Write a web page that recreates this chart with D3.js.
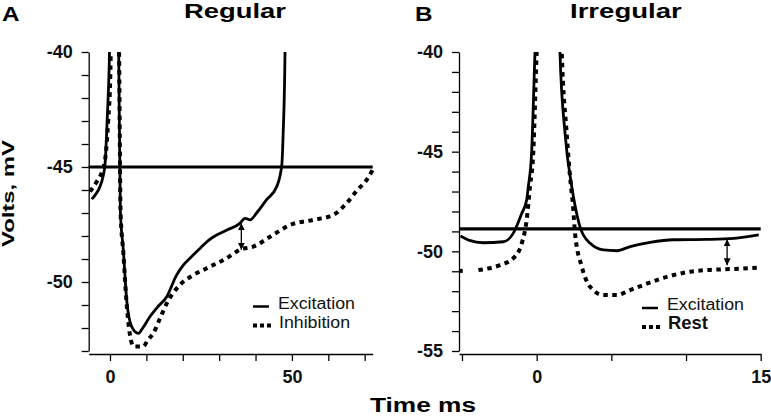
<!DOCTYPE html>
<html lang="en">
<head>
    <meta charset="UTF-8">
    <title>Regular / Irregular</title>
    <script src="https://d3js.org/d3.v7.min.js"></script>
    <style>
        body, html {
            margin: 0;
            background: #fff;
        }
        svg {
            display: block;
            font-family: Arial, "Liberation Sans", sans-serif;
        }
        .axis path, .axis line {
            stroke: #000;
            stroke-width: 1.3;
        }
        .axis text {
            font-size: 18px;
            font-weight: bold;
            fill: #111;
        }
    </style>
</head>
<body>
<svg width="771" height="416"></svg>
<script>
    // Data: [time ms, volts mV]
    const regularExcitation = [
        [-5.0, -46.4], [-4.0, -46.2], [-2.75, -45.85], [-1.4, -44.94], [-0.73, -42.8], [-0.2, -40.5], [0.1, -38],
        [2.2, -38], [2.4, -40], [2.85, -46.9], [3.66, -48.6], [4.6, -50.8], [5.96, -51.94], [7.8, -52.23],
        [9.0, -52.0], [11, -51.5], [13, -51.1], [15.6, -50.64], [18.3, -49.7], [20, -49.3], [22.4, -48.9],
        [25, -48.5], [27, -48.2], [29.3, -47.96], [32, -47.75], [35.7, -47.45], [37.1, -47.23], [38.5, -47.3],
        [40.3, -47.0], [43, -46.43], [45.8, -45.86], [47.2, -44.94], [47.6, -43.5], [48.1, -40], [48.2, -38]
    ];
    const regularInhibition = [
        [-5.5, -46.07], [-3.65, -45.64], [-2.2, -45.2], [-1.2, -44.5], [-0.5, -43], [0.1, -41], [0.4, -38],
        [2.3, -38], [2.5, -40], [2.9, -46.9], [3.7, -48.8], [4.6, -51.0], [5.5, -52.3], [6.5, -52.8],
        [9.1, -52.8], [10.5, -52.5], [11.9, -52.23], [13.7, -51.6], [15.6, -50.93], [19.2, -50.13],
        [22.9, -49.7], [26.6, -49.4], [32, -48.97], [35.7, -48.6], [39.4, -48.46], [44, -48.03],
        [49.5, -47.52], [55.9, -47.3], [61.3, -47.09], [65, -46.58], [68, -46.0], [70.5, -45.57], [72.2, -45.13]
    ];
    const irregularExcitation = [
        [-5.1, -49.23], [-4.5, -49.45], [-3.58, -49.57], [-2.24, -49.52], [-1.57, -49.1], [-1.0, -48.1],
        [-0.67, -47.43], [-0.56, -46.76], [-0.34, -45.08], [-0.11, -40], [0, -38],
        [1.5, -38], [1.56, -40], [1.9, -44.08], [2.35, -46.76], [2.57, -47.7], [2.9, -48.77], [3.58, -49.6],
        [4.47, -49.93], [5.37, -49.97], [6.26, -49.76], [7.6, -49.55], [9.17, -49.42], [11.4, -49.4],
        [13.2, -49.35], [14.87, -49.18]
    ];
    const irregularRest = [
        [-5.15, -50.99], [-4.95, -50.98], null,
        [-3.9, -50.94], [-2.46, -50.69], [-1.57, -50.35], [-1.0, -49.6], [-0.67, -48.43], [-0.45, -46.76],
        [-0.23, -45.08], [0, -40], [0.1, -38],
        [1.6, -38], [1.68, -40], [2.01, -44.08], [2.3, -46.76], [2.4, -47.43], [2.57, -49.1], [3.02, -50.77],
        [3.58, -51.78], [4.47, -52.19], [5.37, -52.19], [6.26, -51.94], [7.15, -51.69], [8.05, -51.44],
        [9.17, -51.19], [10.29, -51.02], [11.4, -50.94], [12.5, -50.9], [13.6, -50.87], [14.87, -50.82]
    ];

    // thresholds and arrow markers
    const thresholds = [-45, -48.87];
    const arrowsA = [[36.1, -47.45, -48.6]];
    const arrowsB = [[12.75, -49.4, -50.7]];

    // tick values
    const yTicksA = d3.range(-53, -39, 1);
    const yLabelsA = [-40, -45, -50];
    const xTicksA = [0, 10, 20, 30, 40, 50, 60, 70];
    const xLabelsA = [0, 50];
    const yTicksB = d3.range(-55, -39, 1);
    const yLabelsB = [-40, -45, -50, -55];
    const xTicksB = [-5, 0, 5, 10, 15];
    const xLabelsB = [0, 15];

    const svg = d3.select("svg");

    // arrow heads
    const defs = svg.append("defs");
    defs.append("marker")
        .attr("id", "head")
        .attr("viewBox", "0 0 10 10")
        .attr("refX", 10).attr("refY", 5)
        .attr("markerWidth", 7).attr("markerHeight", 7)
        .attr("markerUnits", "userSpaceOnUse")
        .attr("orient", "auto-start-reverse")
        .append("path")
        .attr("d", "M0,0L10,5L0,10Z")
        .attr("fill", "#000");

    function drawPanel(opt) {
        const x = d3.scaleLinear().domain(opt.xDomain).range(opt.xRange);
        const y = d3.scaleLinear().domain(opt.yDomain).range([351, 52]);
        const g = svg.append("g");

        // clip so spikes stop at the top of the plot
        defs.append("clipPath").attr("id", opt.id + "-clip")
            .append("rect")
            .attr("x", opt.xRange[0]).attr("y", 52)
            .attr("width", opt.xRange[1] - opt.xRange[0] + 2).attr("height", 300);

        // y axis
        g.append("g").attr("class", "axis")
            .attr("transform", `translate(${opt.xRange[0]},0)`)
            .call(d3.axisLeft(y).tickValues(opt.yTicks).tickSize(7).tickSizeOuter(0).tickPadding(9)
                .tickFormat(d => opt.yLabels.includes(d) ? d : ""));

        // x axis
        g.append("g").attr("class", "axis")
            .attr("transform", "translate(0,354)")
            .call(d3.axisBottom(x).tickValues(opt.xTicks).tickSize(7).tickSizeOuter(0).tickPadding(9)
                .tickFormat(d => opt.xLabels.includes(d) ? d : ""));

        // threshold line
        g.append("line")
            .attr("x1", opt.xRange[0]).attr("x2", opt.xRange[1])
            .attr("y1", y(opt.threshold)).attr("y2", y(opt.threshold))
            .attr("stroke", "#000").attr("stroke-width", 3.2);

        const line = d3.line()
            .defined(d => d)
            .curve(d3.curveMonotoneX)
            .x(d => x(d[0]))
            .y(d => y(d[1]));

        const plot = g.append("g").attr("clip-path", `url(#${opt.id}-clip)`);
        plot.append("path")
            .attr("d", line(opt.dotted))
            .attr("fill", "none")
            .attr("stroke", "#000")
            .attr("stroke-width", 4)
            .attr("stroke-dasharray", "4.5 4.5");
        plot.append("path")
            .attr("d", line(opt.solid))
            .attr("fill", "none")
            .attr("stroke", "#000")
            .attr("stroke-width", 2.8);

        // double headed arrows
        opt.arrows.forEach(a => {
            g.append("line")
                .attr("x1", x(a[0])).attr("x2", x(a[0]))
                .attr("y1", y(a[1])).attr("y2", y(a[2]))
                .attr("stroke", "#000").attr("stroke-width", 1.3)
                .attr("marker-start", "url(#head)")
                .attr("marker-end", "url(#head)");
        });

        // legend
        const lg = g.append("g");
        lg.append("line")
            .attr("x1", opt.legendX).attr("x2", opt.legendX + 16)
            .attr("y1", opt.legendY).attr("y2", opt.legendY)
            .attr("stroke", "#000").attr("stroke-width", 2.5);
        lg.append("line")
            .attr("x1", opt.legendX).attr("x2", opt.legendX + 18)
            .attr("y1", opt.legendY + 19).attr("y2", opt.legendY + 19)
            .attr("stroke", "#000").attr("stroke-width", 4)
            .attr("stroke-dasharray", "4 3");
        lg.append("text")
            .attr("x", opt.legendX + 25).attr("y", opt.legendY + 2)
            .attr("font-size", 16).attr("fill", "#111")
            .attr("textLength", 77).attr("lengthAdjust", "spacingAndGlyphs")
            .text("Excitation");
        lg.append("text")
            .attr("x", opt.legendX + 26).attr("y", opt.legendY + 21)
            .attr("font-size", opt.label2Size).attr("font-weight", opt.label2Weight).attr("fill", "#111")
            .attr("textLength", opt.label2Len).attr("lengthAdjust", "spacingAndGlyphs")
            .text(opt.label2);

        // panel letter and title
        svg.append("text")
            .attr("x", opt.letterX).attr("y", 20.5)
            .attr("font-size", 20.5).attr("font-weight", "bold")
            .attr("textLength", 17.5).attr("lengthAdjust", "spacingAndGlyphs")
            .text(opt.letter);
        svg.append("text")
            .attr("x", opt.titleX).attr("y", 17.8)
            .attr("font-size", 19.5).attr("font-weight", "bold")
            .attr("textLength", opt.titleLen).attr("lengthAdjust", "spacingAndGlyphs")
            .text(opt.title);
    }

    drawPanel({
        id: "a", letter: "A", letterX: 2, title: "Regular", titleX: 184, titleLen: 102,
        xDomain: [-5.85, 72.2], xRange: [88.7, 372.7], yDomain: [-53, -40],
        yTicks: yTicksA, yLabels: yLabelsA, xTicks: xTicksA, xLabels: xLabelsA,
        threshold: thresholds[0], solid: regularExcitation, dotted: regularInhibition, arrows: arrowsA,
        legendX: 253, legendY: 306.5, label2: "Inhibition", label2Size: 16, label2Weight: "normal", label2Len: 71
    });

    drawPanel({
        id: "b", letter: "B", letterX: 415, title: "Irregular", titleX: 570, titleLen: 111.7,
        xDomain: [-5.2, 15], xRange: [459, 760.7], yDomain: [-55, -40],
        yTicks: yTicksB, yLabels: yLabelsB, xTicks: xTicksB, xLabels: xLabelsB,
        threshold: thresholds[1], solid: irregularExcitation, dotted: irregularRest, arrows: arrowsB,
        legendX: 642, legendY: 308, label2: "Rest", label2Size: 18, label2Weight: "bold", label2Len: 40
    });

    // shared axis titles
    svg.append("text")
        .attr("transform", "translate(13.5,193.5) rotate(-90)")
        .attr("text-anchor", "middle")
        .attr("font-size", 16.5).attr("font-weight", "bold")
        .attr("textLength", 107).attr("lengthAdjust", "spacingAndGlyphs")
        .text("Volts, mV");
    svg.append("text")
        .attr("x", 370).attr("y", 412)
        .attr("font-size", 19.5).attr("font-weight", "bold")
        .attr("textLength", 106).attr("lengthAdjust", "spacingAndGlyphs")
        .text("Time ms");
</script>
</body>
</html>
